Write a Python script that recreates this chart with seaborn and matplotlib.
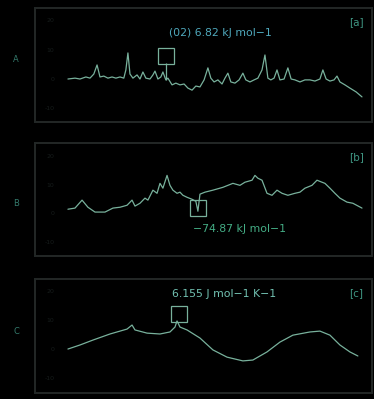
import numpy as np
import pandas as pd
import seaborn as sns
import matplotlib.pyplot as plt

# panel A trace
a_x = [0.0, 2.4, 4.1, 6.1, 7.5, 8.8, 9.9, 10.9, 12.2, 13.6, 15.0, 16.3, 17.7, 19.0,
       19.7, 20.4, 21.1, 22.1, 23.5, 24.5, 25.5, 26.5, 27.9, 28.9, 29.6, 30.6, 31.6,
       32.3, 33.3, 34.0, 35.4, 36.7, 38.1, 39.5, 40.8, 42.2, 43.5, 44.9, 46.3, 47.6,
       48.6, 49.7, 51.0, 52.4, 53.4, 54.4, 55.4, 56.8, 58.2, 59.5, 60.5, 61.9, 63.3,
       64.6, 66.0, 67.0, 68.0, 69.0, 70.1, 71.1, 72.1, 73.5, 74.8, 75.9, 77.2, 78.9,
       80.6, 82.3, 84.0, 85.7, 86.7, 87.8, 89.1, 90.5, 91.5, 92.5, 94.2, 95.9, 98.0, 100.0]
a_y = [0.0, 0.3, 0.0, 0.7, 0.3, 1.7, 4.8, 0.7, 1.0, 0.3, 0.7, 0.3, 0.7, 0.3,
       3.1, 8.9, 1.7, 0.3, 1.4, 0.0, 2.4, 0.3, 0.0, 1.4, 2.7, 0.0, 0.7,
       2.4, -0.3, 0.3, -2.0, -1.4, -2.0, -1.7, -3.1, -3.8, -2.4, -2.7, -0.3, 3.8,
       0.3, -1.0, -0.3, -1.7, 0.3, 2.0, -1.0, -1.4, -0.3, 2.0, -0.3, -1.0, -0.3,
       0.3, 3.1, 8.2, 0.3, -0.3, 0.3, 3.1, -0.3, 0.0, 3.8, 0.0, -0.3, -1.0,
       -0.3, -0.3, -0.7, 0.0, 3.1, 0.0, -0.7, -0.3, 1.0, -1.0, -2.0, -3.1, -4.4, -6.1]

# panel B trace
b_x = [0.0, 2.4, 4.8, 6.8, 9.2, 12.6, 15.3, 17.7, 20.1, 21.8, 22.8, 24.5, 26.2, 27.2,
       28.9, 30.3, 31.3, 32.3, 33.7, 34.7, 35.7, 37.1, 38.1, 39.1, 40.5, 42.2, 43.5,
       44.2, 44.9, 46.6, 49.3, 52.7, 56.1, 58.5, 60.2, 62.6, 63.6, 64.6, 66.0, 67.7,
       69.4, 71.1, 72.8, 74.8, 77.2, 78.9, 80.6, 83.0, 84.7, 86.4, 87.4, 89.1, 90.8,
       92.5, 94.9, 96.9, 100.0]
b_y = [1.4, 1.8, 4.6, 2.1, 0.4, 0.4, 1.8, 2.1, 2.8, 4.6, 2.5, 3.5, 5.3, 4.6,
       8.1, 7.0, 10.5, 8.8, 13.3, 9.8, 8.1, 7.0, 7.4, 6.3, 5.6, 4.9, 4.2,
       0.7, 6.7, 7.4, 8.1, 9.1, 10.5, 9.8, 10.9, 11.6, 13.3, 12.3, 11.6, 7.0,
       6.3, 8.1, 7.0, 6.3, 7.0, 7.4, 8.8, 9.8, 11.6, 10.9, 10.5, 8.8, 7.0,
       5.3, 3.9, 3.5, 1.8]

# panel C trace
c_x = [0.0, 4.1, 8.5, 14.3, 20.1, 21.8, 22.8, 26.9, 31.3, 34.7, 36.4, 37.1, 38.1,
       40.5, 44.9, 49.3, 54.1, 59.5, 62.9, 67.7, 72.1, 76.5, 82.3, 85.7, 89.1,
       92.5, 95.9, 98.6]
c_y = [0.0, 1.4, 3.1, 5.2, 6.9, 8.3, 6.6, 5.5, 5.2, 5.9, 7.6, 9.7, 7.6,
       6.6, 3.8, -0.3, -2.8, -4.1, -3.8, -1.0, 2.4, 4.8, 5.9, 6.2, 4.8,
       1.4, -1.0, -2.4]

# annotated points: box centre and where the stem meets the trace
marks_x = [33.5, 44.2, 37.8]
marks_y = [8.0, 1.9, 12.1]
marks_base = [-0.3, 1.9, 9.7]

panel_names = ["A", "B", "C"]
panel_tags = ["[a]", "[b]", "[c]"]
notes = ["(02) 6.82 kJ mol\u22121", "\u221274.87 kJ mol\u22121", "6.155 J mol\u22121 K\u22121"]
notes_x = [51.7, 58.5, 53.0]
notes_y = [15.7, -5.6, 19.0]
note_colors = ["#4fa9bd", "#44ad85", "#72c2b2"]
ylims = [(-14.7, 24.2), (-15.1, 24.6), (-15.2, 24.2)]
yticks = [-10, 0, 10, 20]

sns.set_theme(style="dark", rc={
    "figure.facecolor": "black",
    "axes.facecolor": "black",
    "axes.edgecolor": "#232827",
    "savefig.facecolor": "black",
})
plt.rcParams["font.family"] = ["DejaVu Sans"]

fig = plt.figure(figsize=(3.74, 3.99), dpi=100)
boxes = [
    [0.0936, 0.694, 0.901, 0.2857],
    [0.0936, 0.358, 0.901, 0.283],
    [0.0936, 0.015, 0.901, 0.2857],
]
row_label_y = [60, 204, 332]
traces = [(a_x, a_y), (b_x, b_y), (c_x, c_y)]
line_col = "#78b19c"

for i, (xs, ys) in enumerate(traces):
    ax = fig.add_axes(boxes[i])
    df = pd.DataFrame({"x": xs, "y": ys})
    sns.lineplot(data=df, x="x", y="y", ax=ax, color=line_col, linewidth=0.9)

    # marker box with a stem down to the trace
    ax.plot([marks_x[i]], [marks_y[i]], marker="s", markersize=11,
            markerfacecolor="none", markeredgecolor=line_col, markeredgewidth=0.9)
    if i == 0:
        ax.vlines(marks_x[i], marks_base[i], marks_y[i] - 2.6,
                  color=line_col, linewidth=0.9)
    ax.text(notes_x[i], notes_y[i], notes[i], color=note_colors[i], fontsize=7.8,
            ha="center", va="center")
    ax.text(0.975, 0.88, panel_tags[i], transform=ax.transAxes, color="#3f9683",
            fontsize=7.5, ha="right", va="center")

    ax.set_xlim(-11.2, 103.4)
    ax.set_ylim(*ylims[i])
    ax.set_xticks([])
    ax.set_yticks(yticks)
    ax.set_yticklabels([str(t) for t in yticks])
    ax.tick_params(axis="y", length=0, pad=-14, labelsize=4.5, labelcolor="#161c1b")
    ax.set_xlabel("")
    ax.set_ylabel("")
    for sp in ax.spines.values():
        sp.set_visible(True)
        sp.set_color("#232827")
        sp.set_linewidth(1.4)

    fig.text(16 / 374, 1 - row_label_y[i] / 399, panel_names[i], color="#347a6c",
             fontsize=6, ha="center", va="center")

fig.savefig("out.png", dpi=100)
